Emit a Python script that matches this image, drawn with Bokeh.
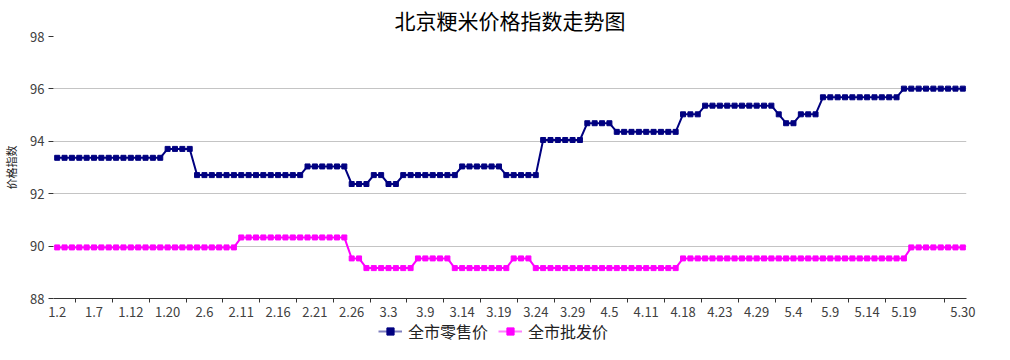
from bokeh.plotting import figure
from bokeh.layouts import column
from bokeh.models import Range1d, FixedTicker, Legend, LegendItem, ColumnDataSource
from bokeh.embed import file_html
from bokeh.resources import INLINE

# ---------------- data ----------------
retail = [
    93.37, 93.37, 93.37, 93.37, 93.37, 93.37, 93.37, 93.37, 93.37, 93.37,
    93.37, 93.37, 93.37, 93.37, 93.37, 93.71, 93.71, 93.71, 93.71, 92.71,
    92.71, 92.71, 92.71, 92.71, 92.71, 92.71, 92.71, 92.71, 92.71, 92.71,
    92.71, 92.71, 92.71, 92.71, 93.04, 93.04, 93.04, 93.04, 93.04, 93.04,
    92.37, 92.37, 92.37, 92.71, 92.71, 92.37, 92.37, 92.71, 92.71, 92.71,
    92.71, 92.71, 92.71, 92.71, 92.71, 93.04, 93.04, 93.04, 93.04, 93.04,
    93.04, 92.71, 92.71, 92.71, 92.71, 92.71, 94.05, 94.05, 94.05, 94.05,
    94.05, 94.05, 94.69, 94.69, 94.69, 94.69, 94.36, 94.36, 94.36, 94.36,
    94.36, 94.36, 94.36, 94.36, 94.36, 95.03, 95.03, 95.03, 95.36, 95.36,
    95.36, 95.36, 95.36, 95.36, 95.36, 95.36, 95.36, 95.36, 95.03, 94.69,
    94.69, 95.03, 95.03, 95.03, 95.68, 95.68, 95.68, 95.68, 95.68, 95.68,
    95.68, 95.68, 95.68, 95.68, 95.68, 96.01, 96.01, 96.01, 96.01, 96.01,
    96.01, 96.01, 96.01, 96.01,
]
wholesale = [
    89.95, 89.95, 89.95, 89.95, 89.95, 89.95, 89.95, 89.95, 89.95, 89.95,
    89.95, 89.95, 89.95, 89.95, 89.95, 89.95, 89.95, 89.95, 89.95, 89.95,
    89.95, 89.95, 89.95, 89.95, 89.95, 90.33, 90.33, 90.33, 90.33, 90.33,
    90.33, 90.33, 90.33, 90.33, 90.33, 90.33, 90.33, 90.33, 90.33, 90.33,
    89.53, 89.53, 89.16, 89.16, 89.16, 89.16, 89.16, 89.16, 89.16, 89.53,
    89.53, 89.53, 89.53, 89.53, 89.16, 89.16, 89.16, 89.16, 89.16, 89.16,
    89.16, 89.16, 89.53, 89.53, 89.53, 89.16, 89.16, 89.16, 89.16, 89.16,
    89.16, 89.16, 89.16, 89.16, 89.16, 89.16, 89.16, 89.16, 89.16, 89.16,
    89.16, 89.16, 89.16, 89.16, 89.16, 89.53, 89.53, 89.53, 89.53, 89.53,
    89.53, 89.53, 89.53, 89.53, 89.53, 89.53, 89.53, 89.53, 89.53, 89.53,
    89.53, 89.53, 89.53, 89.53, 89.53, 89.53, 89.53, 89.53, 89.53, 89.53,
    89.53, 89.53, 89.53, 89.53, 89.53, 89.53, 89.95, 89.95, 89.95, 89.95,
    89.95, 89.95, 89.95, 89.95,
]
tick_labels = ["1.2", "1.7", "1.12", "1.20", "2.6", "2.11", "2.16", "2.21",
               "2.26", "3.3", "3.9", "3.14", "3.19", "3.24", "3.29", "4.5",
               "4.11", "4.18", "4.23", "4.29", "5.4", "5.9", "5.14", "5.19",
               "5.30"]
tick_label_index = [0, 5, 10, 15, 20, 25, 30, 35, 40, 45, 50, 55, 60, 65,
                    70, 75, 80, 85, 90, 95, 100, 105, 110, 115, 123]
y_ticks = [88, 90, 92, 94, 96, 98]
series_names = ["全市零售价", "全市批发价"]
title_text = "北京粳米价格指数走势图"
y_title = "价格指数"

# ---------------- styling ----------------
FONT = "Noto Sans CJK SC"
NAVY = "#000080"
MAG = "#ff00ff"
N = len(retail)
x = list(range(N))
boundary_ticks = [k + 2.5 for k in range(0, 115, 5)] + [120.5]

src = ColumnDataSource(dict(x=x, retail=retail, wholesale=wholesale))

p = figure(width=994, height=320, output_backend="svg", toolbar_location=None,
           x_range=Range1d(-0.5, N - 0.5), y_range=Range1d(88, 98),
           min_border_left=51, min_border_right=28, min_border_top=35,
           min_border_bottom=22)
p.outline_line_color = None
p.background_fill_color = "white"
p.border_fill_color = "white"

p.title.text = title_text
p.title.align = "center"
p.title.text_font = FONT
p.title.text_font_size = "21px"
p.title.text_font_style = "normal"
p.title.text_color = "black"
p.title.standoff = 4

p.xgrid.visible = False
p.ygrid.grid_line_color = "#c4c4c4"
p.ygrid.grid_line_width = 1

xa = p.xaxis[0]
xa.ticker = FixedTicker(ticks=tick_label_index, minor_ticks=boundary_ticks)
xa.major_label_overrides = {i: s for i, s in zip(tick_label_index, tick_labels)}
xa.major_tick_out = 0
xa.major_tick_in = 0
xa.minor_tick_out = 4
xa.minor_tick_in = 0
xa.minor_tick_line_color = "#333333"
xa.axis_line_color = "#333333"
xa.major_label_text_font = FONT
xa.major_label_text_font_size = "13px"
xa.major_label_text_color = "#404040"
xa.major_label_standoff = 4

ya = p.yaxis[0]
ya.ticker = FixedTicker(ticks=y_ticks)
ya.axis_line_color = None
ya.major_tick_out = 5
ya.major_tick_in = 0
ya.major_tick_line_color = "#333333"
ya.minor_tick_line_color = None
ya.major_label_text_font = FONT
ya.major_label_text_font_size = "13px"
ya.major_label_text_color = "#404040"
ya.major_label_standoff = 4
ya.axis_label = y_title
ya.axis_label_text_font = FONT
ya.axis_label_text_font_size = "11px"
ya.axis_label_text_font_style = "normal"
ya.axis_label_text_color = "#222222"
ya.axis_label_standoff = 8

p.line("x", "retail", source=src, line_color=NAVY, line_width=2)
p.scatter("x", "retail", source=src, marker="square", size=5,
          fill_color=NAVY, line_color=NAVY)
p.line("x", "wholesale", source=src, line_color=MAG, line_width=2)
p.scatter("x", "wholesale", source=src, marker="square", size=5,
          fill_color=MAG, line_color=MAG)

# ---------------- legend strip (separate small figure) ----------------
lf = figure(width=994, height=24, output_backend="svg", toolbar_location=None,
            x_axis_type=None, y_axis_type=None,
            x_range=Range1d(0, 1), y_range=Range1d(0, 1),
            min_border_left=0, min_border_right=0, min_border_top=0,
            min_border_bottom=0)
lf.outline_line_color = None
lf.xgrid.visible = False
lf.ygrid.visible = False
lf.background_fill_color = "white"
lf.border_fill_color = "white"

# proxies: series data lies outside this strip's ranges, so only legend glyphs show
lg1 = lf.line("x", "retail", source=src, line_color=NAVY, line_alpha=0.5, line_width=2)
ls1 = lf.scatter("x", "retail", source=src, marker="square", size=6,
                 fill_color=NAVY, line_color=NAVY)
lg2 = lf.line("x", "wholesale", source=src, line_color=MAG, line_alpha=0.5, line_width=2)
ls2 = lf.scatter("x", "wholesale", source=src, marker="square", size=6,
                 fill_color=MAG, line_color=MAG)

legend = Legend(items=[LegendItem(label=series_names[0], renderers=[lg1, ls1]),
                       LegendItem(label=series_names[1], renderers=[lg2, ls2])],
                orientation="horizontal", location=(325, 1),
                label_text_font=FONT, label_text_font_size="16px",
                label_text_color="#222222", label_height=18,
                glyph_width=24, glyph_height=18, label_standoff=6, spacing=10,
                padding=0, margin=0, border_line_color=None,
                background_fill_alpha=0)
lf.add_layout(legend)

layout = column(p, lf, spacing=0)
open("out.html", "w").write(file_html(layout, INLINE))
